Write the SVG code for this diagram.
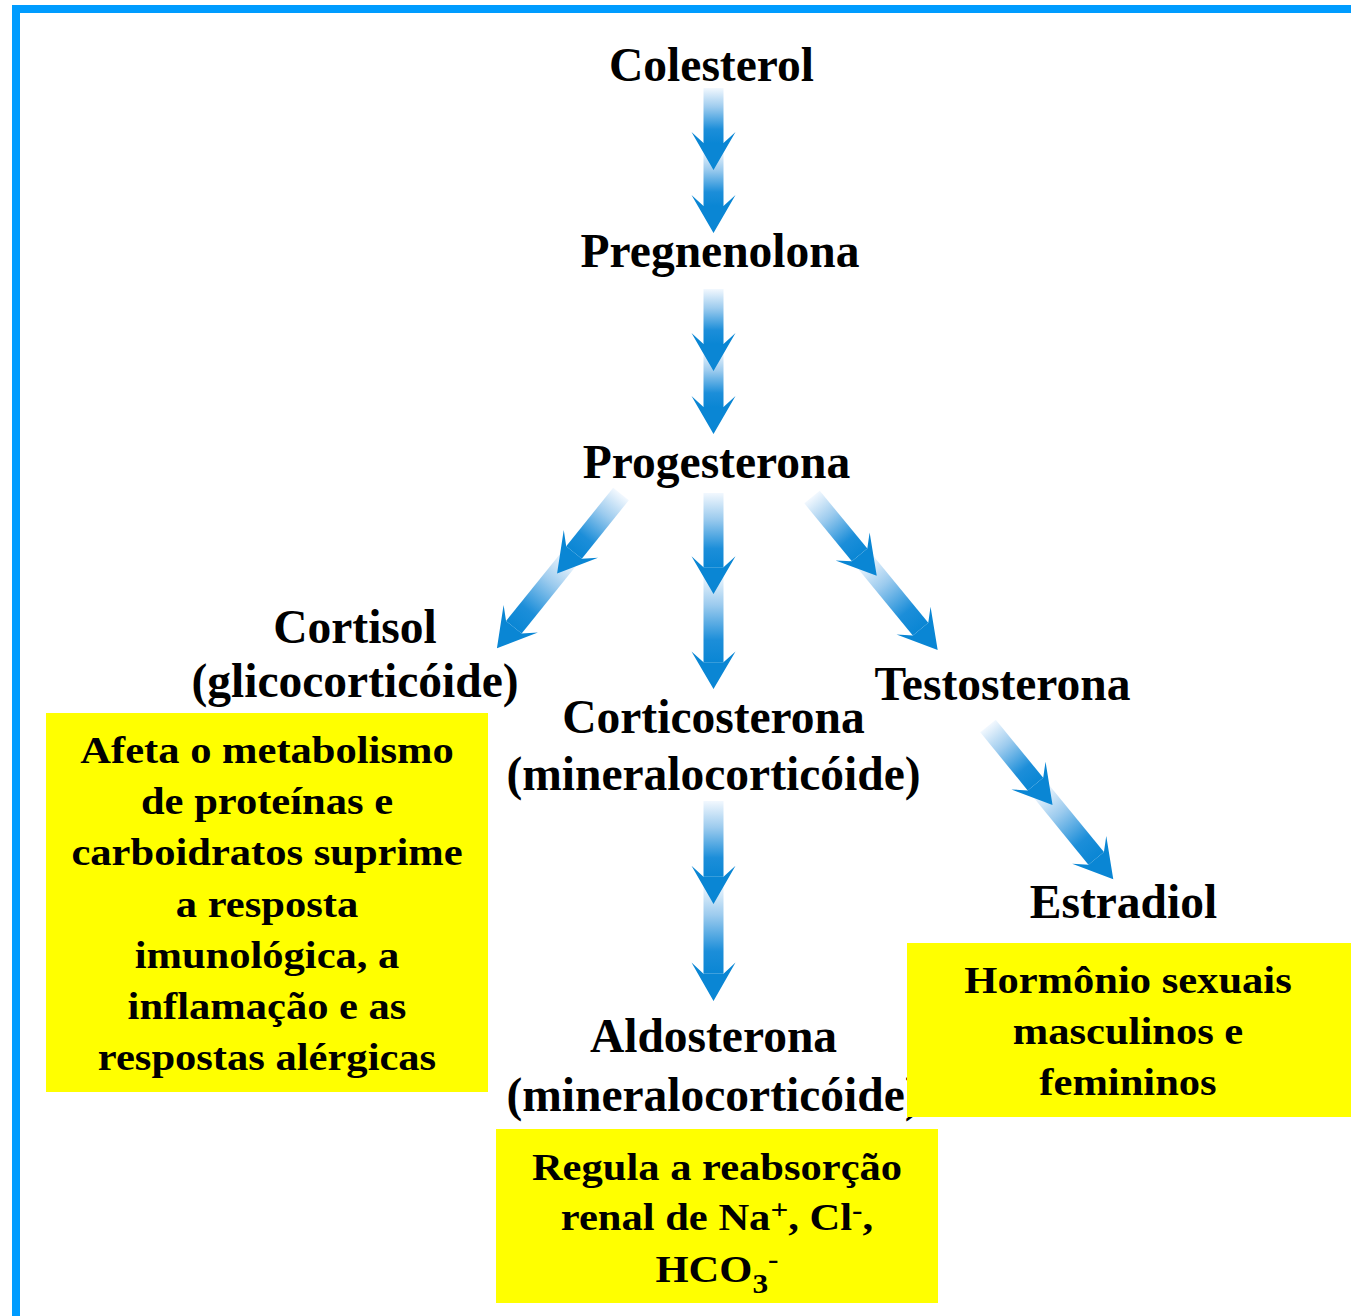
<svg xmlns="http://www.w3.org/2000/svg" width="1351" height="1316" viewBox="0 0 1351 1316">
<style>
.t{font-family:"Liberation Serif","Times New Roman",serif;font-weight:bold;font-size:47.5px;text-anchor:middle;fill:#000}
.b{font-family:"Liberation Serif","Times New Roman",serif;font-weight:bold;font-size:38px;text-anchor:middle;fill:#000}
.box{fill:#ffff00}
.head{fill:#0a86d4}
.shaft{fill:url(#sg)}
</style>
<defs>
<linearGradient id="sg" x1="0" y1="0" x2="0" y2="1">
<stop offset="0" stop-color="#f2f8fe"/>
<stop offset="0.35" stop-color="#9ccbee"/>
<stop offset="0.75" stop-color="#1c8ed9"/>
<stop offset="1" stop-color="#0a86d4"/>
</linearGradient>
<g id="dblS">
<rect class="shaft" x="-10" y="62" width="20" height="56"/>
<path class="head" d="M-10 118 L-22 107 L0 145 L22 107 L10 118 Z"/>
<rect class="shaft" x="-10" y="0" width="20" height="55"/>
<path class="head" d="M-10 55 L-22 44 L0 82 L22 44 L10 55 Z"/>
</g>
<g id="dblL">
<rect class="shaft" x="-10" y="82" width="20" height="89"/>
<path class="head" d="M-10 171 L-22 160 L0 198 L22 160 L10 171 Z"/>
<rect class="shaft" x="-10" y="0" width="20" height="75"/>
<path class="head" d="M-10 75 L-22 64 L0 102 L22 64 L10 75 Z"/>
</g>
</defs>
<rect x="0" y="0" width="1351" height="1316" fill="#ffffff"/>
<g id="frame" fill="#009cff">
<rect x="12" y="5" width="1339" height="8"/>
<rect x="12" y="5" width="8" height="1311"/>
</g>
<g id="connectors">
<use href="#dblS" transform="translate(713.5,88)"/>
<use href="#dblS" transform="translate(713.5,289)"/>
<use href="#dblL" transform="translate(713.5,493) scale(1,0.99)"/>
<use href="#dblL" transform="translate(713.5,801) scale(1,1.01)"/>
<use href="#dblL" transform="translate(621,494) rotate(38.8)"/>
<use href="#dblL" transform="translate(812,497) rotate(-39.4)"/>
<use href="#dblL" transform="translate(988,726) rotate(-39.25)"/>
</g>
<g id="colesterol"><text class="t" x="711.5" y="81">Colesterol</text></g>
<g id="pregnenolona"><text class="t" x="720" y="267">Pregnenolona</text></g>
<g id="progesterona"><text class="t" x="716.5" y="478">Progesterona</text></g>
<g id="cortisol"><text class="t" x="355" y="643">Cortisol</text><text class="t" x="355" y="697">(glicocorticóide)</text></g>
<g id="corticosterona"><text class="t" x="713.5" y="733">Corticosterona</text><text class="t" x="713.5" y="790">(mineralocorticóide)</text></g>
<g id="testosterona"><text class="t" x="1002.5" y="700">Testosterona</text></g>
<g id="estradiol"><text class="t" x="1123.5" y="918">Estradiol</text></g>
<g id="aldosterona"><text class="t" x="713.5" y="1052">Aldosterona</text><text class="t" x="713.5" y="1111">(mineralocorticóide)</text></g>
<g id="box-cortisol">
<rect class="box" x="46" y="713" width="442" height="379"/>
<g transform="translate(267,0) scale(1.12,1)">
<text class="b" x="0" y="763">Afeta o metabolismo</text>
<text class="b" x="0" y="814">de proteínas e</text>
<text class="b" x="0" y="865">carboidratos suprime</text>
<text class="b" x="0" y="917">a resposta</text>
<text class="b" x="0" y="968">imunológica, a</text>
<text class="b" x="0" y="1019">inflamação e as</text>
<text class="b" x="0" y="1070">respostas alérgicas</text>
</g>
</g>
<g id="box-sexuais">
<rect class="box" x="907" y="943" width="444" height="174"/>
<g transform="translate(1128,0) scale(1.12,1)">
<text class="b" x="0" y="993">Hormônio sexuais</text>
<text class="b" x="0" y="1044">masculinos e</text>
<text class="b" x="0" y="1095">femininos</text>
</g>
</g>
<g id="box-aldosterona">
<rect class="box" x="496" y="1129" width="442" height="174"/>
<g transform="translate(717,0) scale(1.12,1)">
<text class="b" x="0" y="1180">Regula a reabsorção</text>
<text class="b" x="0" y="1230">renal de Na<tspan font-size="28" dy="-11">+</tspan><tspan dy="11">, Cl</tspan><tspan font-size="28" dy="-11">-</tspan><tspan dy="11">,</tspan></text>
<text class="b" x="0" y="1282">HCO<tspan font-size="28" dy="11">3</tspan><tspan font-size="28" dy="-25">-</tspan></text>
</g>
</g>
</svg>
